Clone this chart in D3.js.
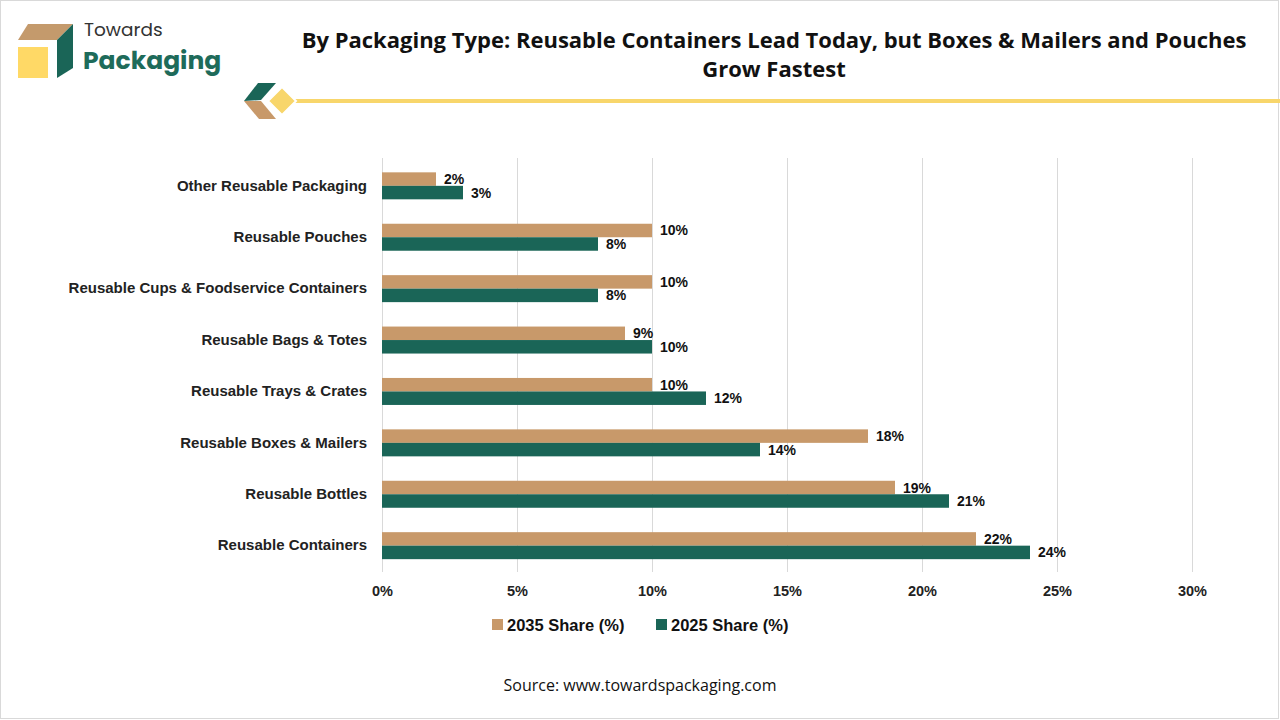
<!DOCTYPE html>
<html><head><meta charset="utf-8">
<script src="https://cdn.jsdelivr.net/npm/d3@7"></script>
<style>html,body{margin:0;padding:0;background:#fff;}svg{display:block;}</style>
</head><body>
<svg id="c" width="1280" height="720"></svg>
<script>
const categories = ["Other Reusable Packaging","Reusable Pouches","Reusable Cups & Foodservice Containers","Reusable Bags & Totes","Reusable Trays & Crates","Reusable Boxes & Mailers","Reusable Bottles","Reusable Containers"];
const share2035 = [2,10,10,9,10,18,19,22];
const share2025 = [3,8,8,10,12,14,21,24];
const seriesNames = ["2035 Share (%)","2025 Share (%)"];
const xTicks = [0,5,10,15,20,25,30];

const TAN = "#C8996A", GREEN = "#1A6557", YEL = "#F8D66B";
const svg = d3.select("#c");
svg.append("rect").attr("x",0.5).attr("y",0.5).attr("width",1278).attr("height",718).attr("fill","#fff").attr("stroke","#d9d9d9");

// logo
const lg = svg.append("g");
lg.append("polygon").attr("points","28,24 73,24 57,40 18,40").attr("fill","#C49A6C");
lg.append("rect").attr("x",18).attr("y",47).attr("width",30).attr("height",31).attr("fill","#FFD966");
lg.append("polygon").attr("points","73,24 73,68 57,78 57,40").attr("fill","#1A6557");
lg.append("text").attr("x",84).attr("y",36).attr("font-family","Poppins, 'Noto Sans', sans-serif").attr("font-size",18.5).attr("fill","#333").text("Towards");
lg.append("text").attr("x",83).attr("y",68.5).attr("font-family","Poppins, 'Noto Sans', sans-serif").attr("font-weight","bold").attr("font-size",25).attr("fill","#1E6B5A").text("Packaging");

// decoration
svg.append("line").attr("x1",290).attr("x2",1280).attr("y1",101).attr("y2",101).attr("stroke",YEL).attr("stroke-width",4);
svg.append("polygon").attr("points","258,83 276,83 261,100 244,101").attr("fill",GREEN);
svg.append("polygon").attr("points","244,101 261,101 276,119 259,119").attr("fill",TAN);
svg.append("polygon").attr("points","282,87 296,101 282,115 268,101").attr("fill",YEL).attr("stroke","#fff").attr("stroke-width",2);

// title
const title = svg.append("text").attr("text-anchor","middle").attr("font-family","'Open Sans', sans-serif").attr("font-weight","bold").attr("font-size",22).attr("fill","#111");
title.append("tspan").attr("x",774).attr("y",48).text("By Packaging Type: Reusable Containers Lead Today, but Boxes & Mailers and Pouches");
title.append("tspan").attr("x",774).attr("y",77).text("Grow Fastest");

// scales
const x = d3.scaleLinear().domain([0,30]).range([382,1192]);
const y = d3.scaleBand().domain(categories).range([160,571.5]).paddingInner(0.475).paddingOuter(0.24);
const bh = y.bandwidth()/2;

// grid
svg.append("g").selectAll("line").data(xTicks).join("line")
  .attr("x1",d=>x(d)).attr("x2",d=>x(d)).attr("y1",158).attr("y2",572)
  .attr("stroke","#d9d9d9").attr("stroke-width",1).attr("shape-rendering","crispEdges");

// x axis labels
const xAxis = d3.axisBottom(x).tickValues(xTicks).tickFormat(d=>d+"%").tickSize(0).tickPadding(0);
const xa = svg.append("g").attr("transform","translate(0,586)").call(xAxis);
xa.select(".domain").remove();
xa.selectAll("text").attr("font-family","'Liberation Sans', Arial, sans-serif").attr("font-weight","bold").attr("font-size",14.5).attr("fill","#222").attr("dy","0.7em");

// y axis labels
const yAxis = d3.axisLeft(y).tickSize(0).tickPadding(0);
const ya = svg.append("g").attr("transform","translate(367,0)").call(yAxis);
ya.select(".domain").remove();
ya.selectAll("text").attr("font-family","'Liberation Sans', Arial, sans-serif").attr("font-weight","bold").attr("font-size",15).attr("fill","#222");

// bars
const rows = categories.map((c,i)=>({c, a:share2035[i], b:share2025[i]}));
const g = svg.append("g");
g.selectAll(".t").data(rows).join("rect").attr("class","t")
  .attr("x",x(0)).attr("y",d=>y(d.c)).attr("width",d=>x(d.a)-x(0)).attr("height",bh).attr("fill",TAN);
g.selectAll(".g").data(rows).join("rect").attr("class","g")
  .attr("x",x(0)).attr("y",d=>y(d.c)+bh).attr("width",d=>x(d.b)-x(0)).attr("height",bh).attr("fill",GREEN);
const lf = sel => sel.attr("font-family","'Liberation Sans', Arial, sans-serif").attr("font-weight","bold").attr("font-size",14).attr("fill","#111").attr("dominant-baseline","central");
g.selectAll(".lt").data(rows).join("text").attr("class","lt")
  .attr("x",d=>x(d.a)+8).attr("y",d=>y(d.c)+bh/2).text(d=>d.a+"%").call(lf);
g.selectAll(".lg").data(rows).join("text").attr("class","lg")
  .attr("x",d=>x(d.b)+8).attr("y",d=>y(d.c)+bh*1.5).text(d=>d.b+"%").call(lf);

// legend
const leg = svg.append("g");
const legX = [492, 656];
[TAN, GREEN].forEach((col,i)=>{
  leg.append("rect").attr("x",legX[i]).attr("y",619).attr("width",11).attr("height",11).attr("fill",col);
  leg.append("text").attr("x",legX[i]+15).attr("y",625).attr("dominant-baseline","central")
    .attr("font-family","'Liberation Sans', Arial, sans-serif").attr("font-weight","bold").attr("font-size",16.5).attr("fill","#111").text(seriesNames[i]);
});

// source
svg.append("text").attr("x",640).attr("y",691).attr("text-anchor","middle").attr("font-family","'Open Sans', sans-serif").attr("font-size",16).attr("fill","#111").text("Source: www.towardspackaging.com");
</script>
</body></html>
